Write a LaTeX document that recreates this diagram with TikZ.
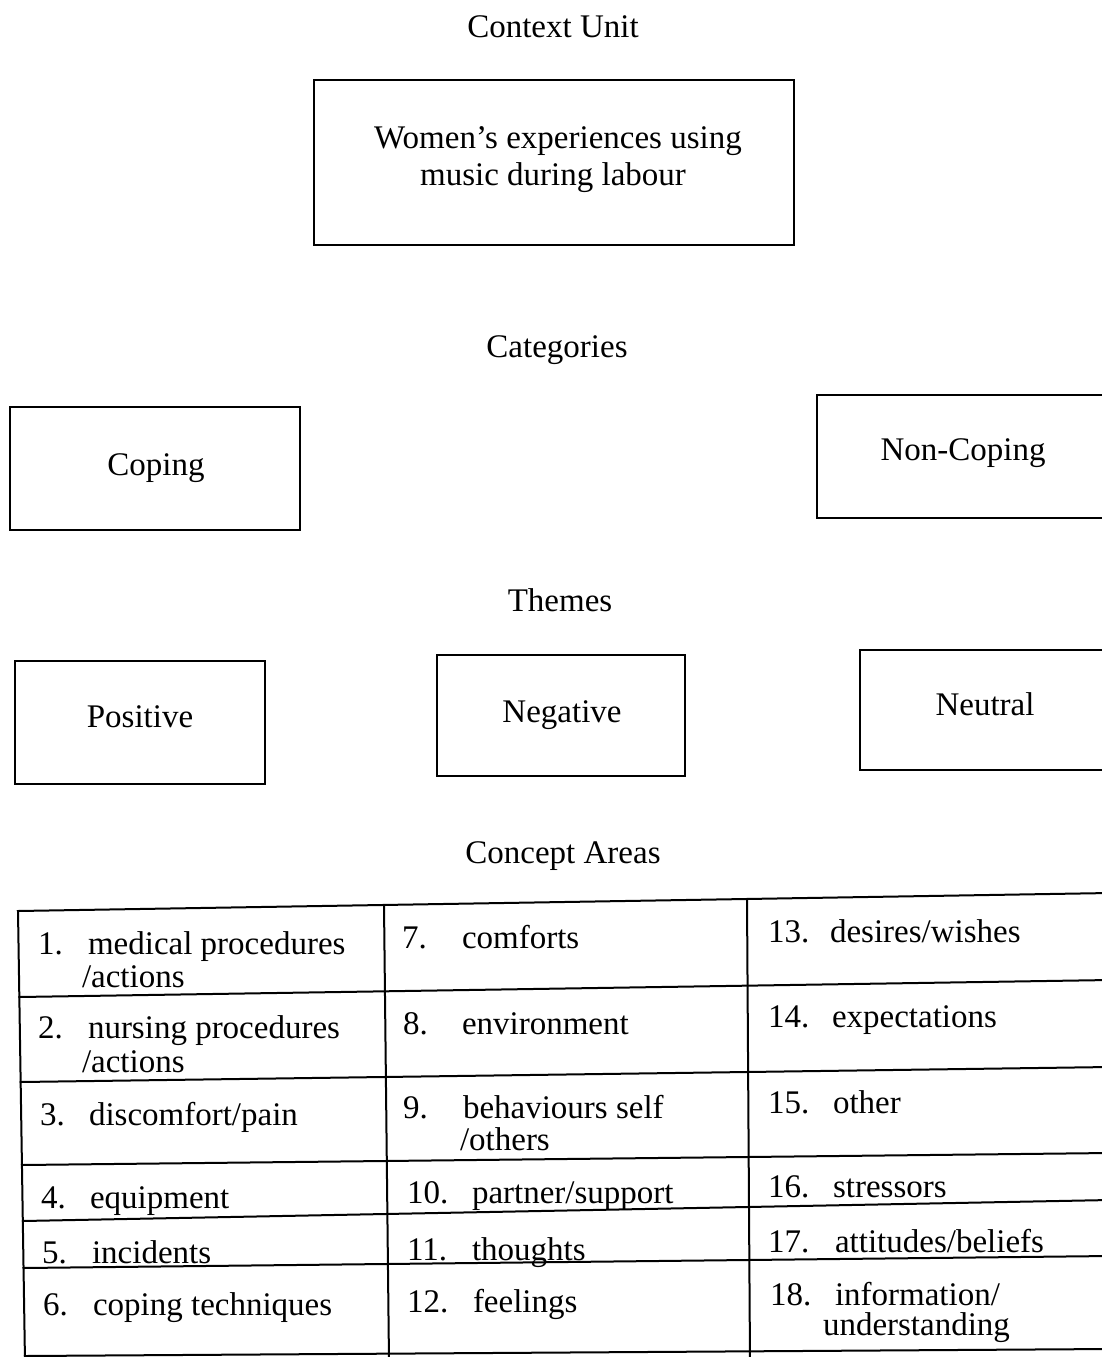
\documentclass[tikz,border=0pt]{standalone}
\usepackage{fontspec}
\setmainfont{Liberation Serif}
\newcommand\fsz{\fontsize{33}{40}\selectfont}
\begin{document}
\begin{tikzpicture}[x=1pt,y=-1pt,
  box/.style={draw, line width=2pt, inner sep=0pt, outer sep=0pt},
  txt/.style={inner sep=0pt, outer sep=0pt, font=\fsz, anchor=base},
  ctxt/.style={txt, anchor=base west},
  rulel/.style={line width=2pt, line cap=rect}]
\useasboundingbox (0,0) rectangle (1101,1357);

% headings
\node[txt] (hctx) at (553,37) {Context Unit};
\node[txt] (hcat) at (557,357) {Categories};
\node[txt] (hthm) at (560,611) {Themes};
\node[txt] (hcon) at (563,863) {Concept Areas};

% context unit box
\node[box, minimum width=480pt, minimum height=165pt] (ctx) at (554,162.5) {};
\node[txt] (ctx1) at (558,148) {Women’s experiences using};
\node[txt] (ctx2) at (553,185) {music during labour};

% categories
\node[box, minimum width=290pt, minimum height=123pt] (cop) at (155,468.5) {};
\node[txt] (copt) at (156,475) {Coping};
\node[box, minimum width=293pt, minimum height=123pt] (ncop) at (963.5,456.5) {};
\node[txt] (ncopt) at (963,460) {Non-Coping};

% themes
\node[box, minimum width=250pt, minimum height=123pt] (pos) at (140,722.5) {};
\node[txt] (post) at (140,727) {Positive};
\node[box, minimum width=248pt, minimum height=121pt] (neg) at (561,715.5) {};
\node[txt] (negt) at (562,722) {Negative};
\node[box, minimum width=250pt, minimum height=120pt] (neu) at (985,710) {};
\node[txt] (neut) at (985,715) {Neutral};

% concept areas table
\draw[rulel] (18,911) -- (25,1362);
\draw[rulel] (384,905) -- (389,1362);
\draw[rulel] (747,899) -- (750,1362);
\draw[rulel] (18,911) -- (1110,893);
\draw[rulel] (19.3,997) -- (1110,980);
\draw[rulel] (20.7,1082) -- (1110,1067);
\draw[rulel] (22,1165) -- (1110,1153);
\draw[rulel] (22.8,1221) -- (1110,1200);
\draw[rulel] (23.5,1268) -- (1110,1256);
\draw[rulel] (25,1356) -- (1110,1349);

% left column
\node[ctxt] (n1) at (38,954) {1.};
\node[ctxt] (t1) at (88,954) {medical procedures};
\node[ctxt] (t1b) at (82,987) {/actions};
\node[ctxt] (n2) at (38,1038) {2.};
\node[ctxt] (t2) at (88,1038) {nursing procedures};
\node[ctxt] (t2b) at (82,1072) {/actions};
\node[ctxt] (n3) at (40,1125) {3.};
\node[ctxt] (t3) at (89,1125) {discomfort/pain};
\node[ctxt] (n4) at (41,1208) {4.};
\node[ctxt] (t4) at (90,1208) {equipment};
\node[ctxt] (n5) at (42,1263) {5.};
\node[ctxt] (t5) at (92,1263) {incidents};
\node[ctxt] (n6) at (43,1315) {6.};
\node[ctxt] (t6) at (93,1315) {coping techniques};

% middle column
\node[ctxt] (n7) at (402,948) {7.};
\node[ctxt] (t7) at (462,948) {comforts};
\node[ctxt] (n8) at (403,1034) {8.};
\node[ctxt] (t8) at (462,1034) {environment};
\node[ctxt] (n9) at (403,1118) {9.};
\node[ctxt] (t9) at (463,1118) {behaviours self};
\node[ctxt] (t9b) at (460,1150) {/others};
\node[ctxt] (n10) at (407,1203) {10.};
\node[ctxt] (t10) at (472,1203) {partner/support};
\node[ctxt] (n11) at (407,1260) {11.};
\node[ctxt] (t11) at (472,1260) {thoughts};
\node[ctxt] (n12) at (407,1312) {12.};
\node[ctxt] (t12) at (473,1312) {feelings};

% right column
\node[ctxt] (n13) at (768,942) {13.};
\node[ctxt] (t13) at (830,942) {desires/wishes};
\node[ctxt] (n14) at (768,1027) {14.};
\node[ctxt] (t14) at (832,1027) {expectations};
\node[ctxt] (n15) at (768,1113) {15.};
\node[ctxt] (t15) at (833,1113) {other};
\node[ctxt] (n16) at (768,1197) {16.};
\node[ctxt] (t16) at (833,1197) {stressors};
\node[ctxt] (n17) at (768,1252) {17.};
\node[ctxt] (t17) at (835,1252) {attitudes/beliefs};
\node[ctxt] (n18) at (770,1305) {18.};
\node[ctxt] (t18) at (835,1305) {information/};
\node[ctxt] (t18b) at (823,1335) {understanding};
\end{tikzpicture}
\end{document}
